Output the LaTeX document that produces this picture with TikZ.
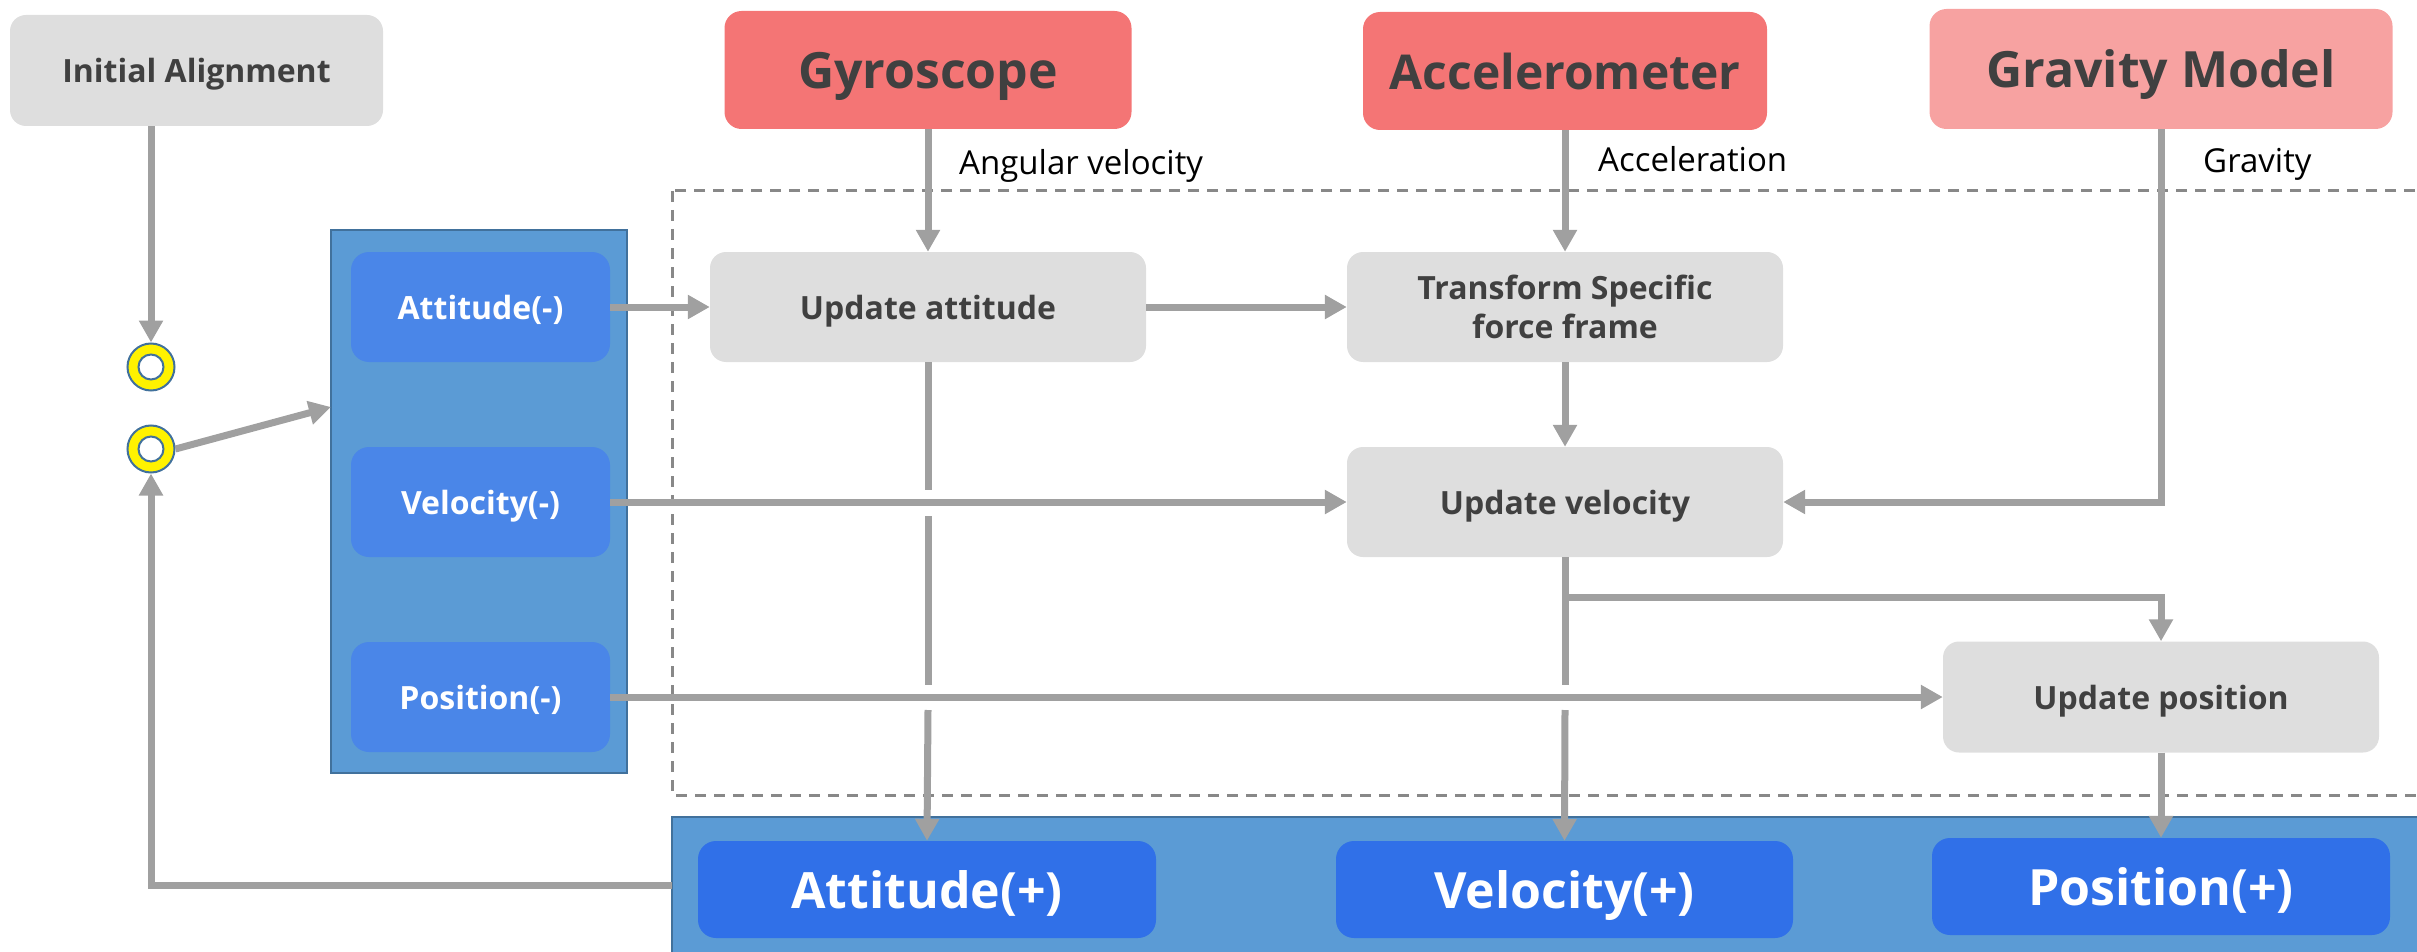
\documentclass[tikz,border=0pt]{standalone}
\usepackage{fontspec}
\setmainfont{Open Sans}
\usetikzlibrary{arrows.meta}
\definecolor{boxgrey}{HTML}{DEDEDE}
\definecolor{txtgrey}{HTML}{404040}
\definecolor{linegrey}{HTML}{A0A0A0}
\definecolor{dashgrey}{HTML}{888888}
\definecolor{panelblue}{HTML}{5B9BD5}
\definecolor{paneledge}{HTML}{41719C}
\definecolor{priorblue}{HTML}{4A86E8}
\definecolor{postblue}{HTML}{3070E8}
\definecolor{sensorred}{HTML}{F47575}
\definecolor{modelpink}{HTML}{F7A2A1}
\begin{document}
\begin{tikzpicture}[x=1pt,y=-1pt,
  procbox/.style={fill=boxgrey, rounded corners=16pt, text=txtgrey,
    font=\bfseries\fontsize{32}{39}\selectfont, align=center, inner sep=0pt,
    text depth=0pt, minimum width=436pt, minimum height=110pt},
  sensor/.style={fill=sensorred, rounded corners=17pt, text=txtgrey,
    font=\bfseries\fontsize{50}{60}\selectfont, inner sep=0pt,
    text depth=0pt, minimum height=118pt},
  panel/.style={fill=panelblue, draw=paneledge, line width=2.5pt, inner sep=0pt},
  prior/.style={fill=priorblue, rounded corners=18pt, text=white,
    font=\bfseries\fontsize{32}{39}\selectfont, inner sep=0pt,
    text depth=0pt, minimum width=259pt, minimum height=110pt},
  post/.style={fill=postblue, rounded corners=18pt, text=white,
    font=\bfseries\fontsize{50}{60}\selectfont, inner sep=0pt,
    text depth=0pt, minimum width=458pt, minimum height=97pt},
  flowlabel/.style={anchor=base west, inner sep=0pt, font=\fontsize{33}{40}\selectfont},
  arr/.style={draw=linegrey, line width=7pt, -{Triangle[width=23pt,length=22pt]}},
  plain/.style={draw=linegrey, line width=7pt},
  ring/.style={circle, draw=paneledge, line width=2pt, inner sep=0pt},
  boundary/.style={draw=dashgrey, line width=3pt, dash pattern=on 11pt off 8pt}
]
\useasboundingbox (0,0) rectangle (2417,952);
\clip (0,0) rectangle (2417,952);

% input sources
\node[procbox, minimum width=373pt, minimum height=111pt] (ia) at (196.5,70.5) {Initial Alignment};
\node[sensor, minimum width=407pt] (gyro) at (928,70) {Gyroscope};
\node[sensor, font=\bfseries\fontsize{48}{58}\selectfont, minimum width=404pt] (acc) at (1565,71) {Accelerometer};
\node[sensor, fill=modelpink, minimum width=463pt, minimum height=120pt] (grav) at (2161,69) {Gravity Model};

% mechanization boundary
\draw[boundary] (672,191) rectangle (2450,795);

% prior state panel
\node[panel, minimum width=296pt, minimum height=543pt] (lp) at (479,501.5) {};
\node[prior] (am) at (480.5,307) {Attitude(-)};
\node[prior] (vm) at (480.5,502) {Velocity(-)};
\node[prior] (pm) at (480.5,697) {Position(-)};

% posterior state panel
\node[panel, minimum width=1790pt, minimum height=170pt] (bp) at (1567,902) {};
\node[post] (ap) at (927,889.5) {Attitude(+)};
\node[post, minimum width=457pt] (vp) at (1564.5,889.5) {Velocity(+)};
\node[post] (pp) at (2161,886.5) {Position(+)};

% processing steps
\node[procbox] (ua) at (928,307) {Update attitude};
\node[procbox] (tsf) at (1565,307) {Transform Specific\\force frame};
\node[procbox] (uv) at (1565,502) {Update velocity};
\node[procbox, minimum height=111pt] (up) at (2161,697) {Update position};

% selector rings
\node[ring, fill=yellow, minimum size=47pt] (r1) at (151,367) {};
\node[ring, fill=white, minimum size=25pt] (r1i) at (r1) {};
\node[ring, fill=yellow, minimum size=47pt] (r2) at (151,449) {};
\node[ring, fill=white, minimum size=25pt] (r2i) at (r2) {};

% helper points
\coordinate (lpin) at (331,407);
\coordinate (fb) at (672,885);
\coordinate (a1) at (928,490);
\coordinate (a2) at (928,516);
\coordinate (a3) at (928,685);
\coordinate (a4) at (928,710);
\coordinate (v3) at (1565,685);
\coordinate (v4) at (1565,710);
\coordinate (br) at (1565,597);

% connectors: initialisation and feedback
\draw[arr] (ia.south -| r1) -- (r1.north);
\draw[arr] (r2.east) -- (lpin);
\draw[arr] (fb) -| (r2.south);

% sensor inputs
\draw[arr] (gyro.south) -- (ua.north);
\draw[arr] (acc.south) -- (tsf.north);
\draw[arr] (grav.south) |- (uv.east);

% attitude chain
\draw[plain] (ua.south) -- (a1);
\draw[plain] (a2) -- (a3);
\draw[arr] (a4) -- (ap.north);

% velocity chain
\draw[arr] (tsf.south) -- (uv.north);
\draw[plain] (uv.south) -- (v3);
\draw[arr] (v4) -- (vp.north);
\draw[arr] (br) -| (up.north);
\draw[arr] (up.south) -- (pp.north);

% prior states into the update steps
\draw[arr] (am.east) -- (ua.west);
\draw[arr] (ua.east) -- (tsf.west);
\draw[arr] (vm.east) -- (uv.west);
\draw[arr] (pm.east) -- (up.west);

% signal labels
\node[flowlabel] (lw) at (959,175) {Angular velocity};
\node[flowlabel] (la) at (1598,172) {Acceleration};
\node[flowlabel] (lg) at (2203,173) {Gravity};
\end{tikzpicture}
\end{document}
